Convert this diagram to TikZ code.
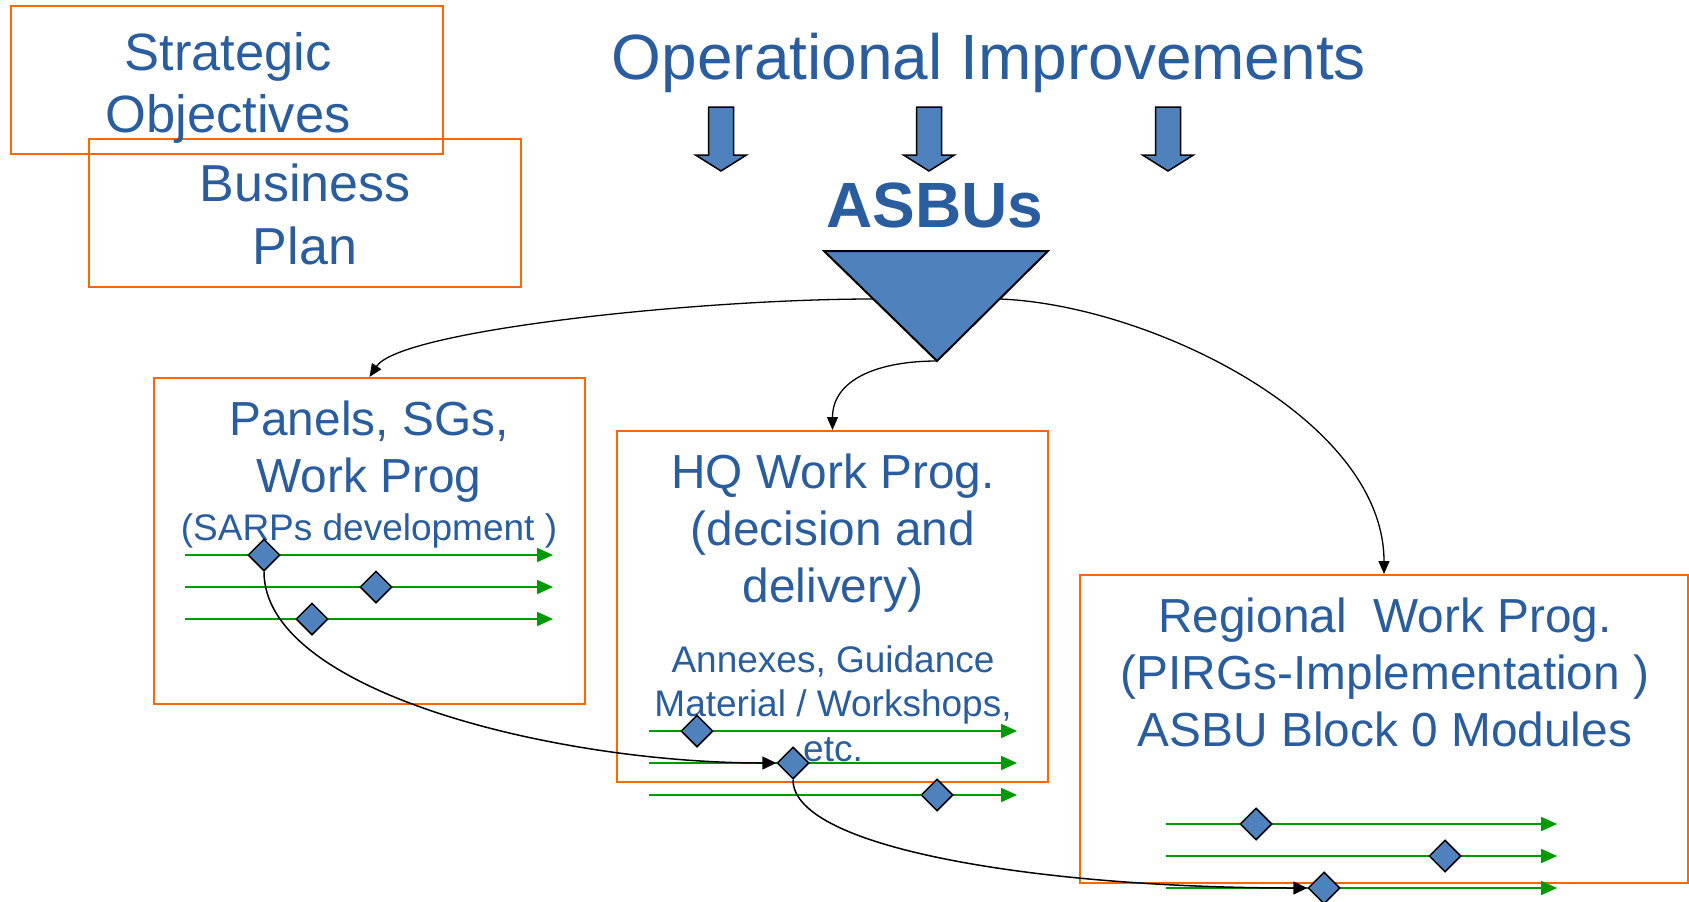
\documentclass[tikz,border=0pt]{standalone}
\usepackage{fontspec}
\setmainfont{Liberation Sans}
\usetikzlibrary{arrows.meta,shapes.geometric}
\definecolor{tblue}{HTML}{2A5D9E}
\definecolor{fblue}{HTML}{4F81BD}
\definecolor{borange}{HTML}{FF6600}
\definecolor{lgreen}{HTML}{009900}
\tikzset{
 obox/.style={draw=borange,line width=2pt,rectangle,inner sep=0pt},
 txt/.style={text=tblue,inner sep=0pt,anchor=base,align=center},
 big/.style={font=\fontsize{47.8}{57}\selectfont},
 small/.style={font=\fontsize{37}{44.5}\selectfont},
 gline/.style={draw=lgreen,line width=2pt,-{Triangle[length=16pt,width=14pt]}},
 dia/.style={diamond,draw=black,fill=fblue,line width=1.5pt,inner sep=0pt,minimum width=32pt,minimum height=32pt},
 conn/.style={draw=black,line width=1.3pt,-{Triangle[length=13pt,width=11pt]}},
 conntwo/.style={draw=black,line width=1.5pt,-{Triangle[length=14pt,width=13pt]}},
 barrow/.style={draw=black,fill=fblue,line width=1.5pt,line join=miter},
 downarr/.pic={\path[barrow] (-12.5,0) -- (12.5,0) -- (12.5,48) -- (25.5,48) -- (0,64) -- (-25.5,48) -- (-12.5,48) -- cycle;}
}
\begin{document}
\begin{tikzpicture}[x=1pt,y=-1pt]
\useasboundingbox (0,0) rectangle (1689,902);
% top-left boxes
\node[obox,minimum width=432pt,minimum height=148pt] (strat) at (227,80) {};
\node[obox,minimum width=432pt,minimum height=148pt] (biz) at (305,213) {};
\node[txt,font=\fontsize{52.5}{62}\selectfont] (strattxt) at (228,132) {Strategic\\Objectives};
\node[txt,font=\fontsize{52}{63}\selectfont] (biztxt) at (305,264) {Business\\Plan};
% title and arrows
\node[txt,font=\fontsize{64}{70}\selectfont] (title) at (989,79) {Operational Improvements};
\pic at (721,107) {downarr};
\pic at (929,107) {downarr};
\pic at (1168,107) {downarr};
\node[txt,font=\fontsize{64}{70}\selectfont\bfseries] (asbu) at (935,227) {ASBUs};
% main boxes
\node[obox,minimum width=431pt,minimum height=326pt] (pan) at (369.5,541) {};
\node[obox,minimum width=431pt,minimum height=351pt] (hq) at (832.5,606.5) {};
\node[obox,minimum width=608pt,minimum height=308pt] (reg) at (1384,729) {};
% triangle connectors
\coordinate (tL) at (873,299);
\coordinate (tR) at (1000,299);
\coordinate (tB) at (937,361);
\draw[conn] (tL) .. controls +(-173,0) and +(31,-47) .. (pan.north);
\draw[conn] (tB) .. controls +(-60,0) and +(0,-50) .. (hq.north);
\draw[conn] (tR) .. controls +(150,6) and +(0,-155) .. (reg.north);
\path[barrow,line width=2pt] (824,251) -- (1048,251) -- (tB) -- cycle;
% texts
\node[txt,big] (pantxt) at (369,492) {Panels, SGs,\\Work Prog};
\node[txt,small] (pansub) at (369,540) {(SARPs development )};
\node[txt,big] (hqtxt) at (833,602) {HQ Work Prog.\\(decision and\\delivery)};
\node[txt,small] (hqsub) at (833,761) {Annexes, Guidance\\Material / Workshops,\\etc.};
\node[txt,big] (regtxt) at (1385,746) {Regional~\ Work Prog.\\(PIRGs-Implementation )\\ASBU Block 0 Modules};
% timelines
\foreach \n/\y/\d in {1/555/264, 2/587/376, 3/619/312} {
  \coordinate (gP\n s) at (185,\y);
  \coordinate (gP\n e) at (553,\y);
  \draw[gline] (gP\n s) -- (gP\n e);
  \node[dia] (dP\n) at (\d,\y) {};
}
\foreach \n/\y/\d in {1/731/697, 2/763/793, 3/795/937} {
  \coordinate (gH\n s) at (649,\y);
  \coordinate (gH\n e) at (1017,\y);
  \draw[gline] (gH\n s) -- (gH\n e);
  \node[dia] (dH\n) at (\d,\y) {};
}
\foreach \n/\y/\d in {1/824/1256, 2/856/1445, 3/888/1324} {
  \coordinate (gR\n s) at (1166,\y);
  \coordinate (gR\n e) at (1557,\y);
  \draw[gline] (gR\n s) -- (gR\n e);
  \node[dia] (dR\n) at (\d,\y) {};
}
\draw[conntwo] (dP1.south) .. controls +(0,120) and +(-220,0) .. (dH2.west);
\draw[conntwo] (dH2.south) .. controls +(0,70) and +(-260,0) .. (dR3.west);
\end{tikzpicture}
\end{document}
